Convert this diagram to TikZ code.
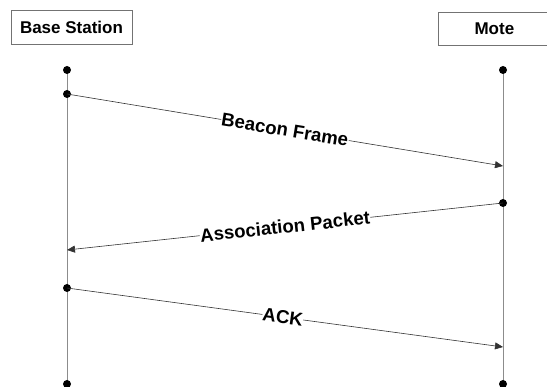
\documentclass[tikz,border=0pt]{standalone}
\usepackage{fontspec}
\setmainfont{Liberation Sans}
\usetikzlibrary{arrows.meta}
\begin{document}
\begin{tikzpicture}[x=1pt,y=-1pt,
  actor/.style={draw=black!55,line width=0.8pt,fill=white,inner sep=0pt,font=\bfseries\fontsize{17}{20}\selectfont},
  lifeline/.style={draw=black!45,line width=1pt},
  msg/.style={draw=black!80,line width=0.6pt,-{Triangle[length=8pt,width=7pt]}},
  msglabel/.style={fill=white,inner sep=0.5pt,font=\bfseries\fontsize{18.6}{21}\selectfont},
  dot/.style={circle,fill=black,inner sep=0pt,minimum size=8pt}]
\useasboundingbox (0,0) rectangle (547,387);
% participants
\node[actor,minimum width=121pt,minimum height=34pt] (bs) at (71.5,27) {Base Station};
\node[actor,minimum width=112pt,minimum height=33pt,anchor=west] (mote) at (438,28.5) {Mote};
% lifeline end points
\coordinate (bsTop) at (67,70);
\coordinate (bsBot) at (67,384);
\coordinate (mTop) at (503,70);
\coordinate (mBot) at (503,384);
\draw[lifeline] (bsTop) -- (bsBot);
\draw[lifeline] (mTop) -- (mBot);
\node[dot] at (bsTop) {};
\node[dot] at (bsBot) {};
\node[dot] at (mTop) {};
\node[dot] at (mBot) {};
% message anchors
\node[dot] (b1) at (67,94) {};
\coordinate (m1) at (503,166);
\node[dot] (m2) at (503,203) {};
\coordinate (b2) at (67,250);
\node[dot] (b3) at (67,288) {};
\coordinate (m3) at (503,347);
% messages
\draw[msg] (b1.center) -- node[msglabel,sloped,pos=0.5] {Beacon Frame} (m1);
\draw[msg] (m2.center) -- node[msglabel,sloped,pos=0.5] {Association Packet} (b2);
\draw[msg] (b3.center) -- node[msglabel,sloped,pos=0.495] {ACK} (m3);
\end{tikzpicture}
\end{document}
